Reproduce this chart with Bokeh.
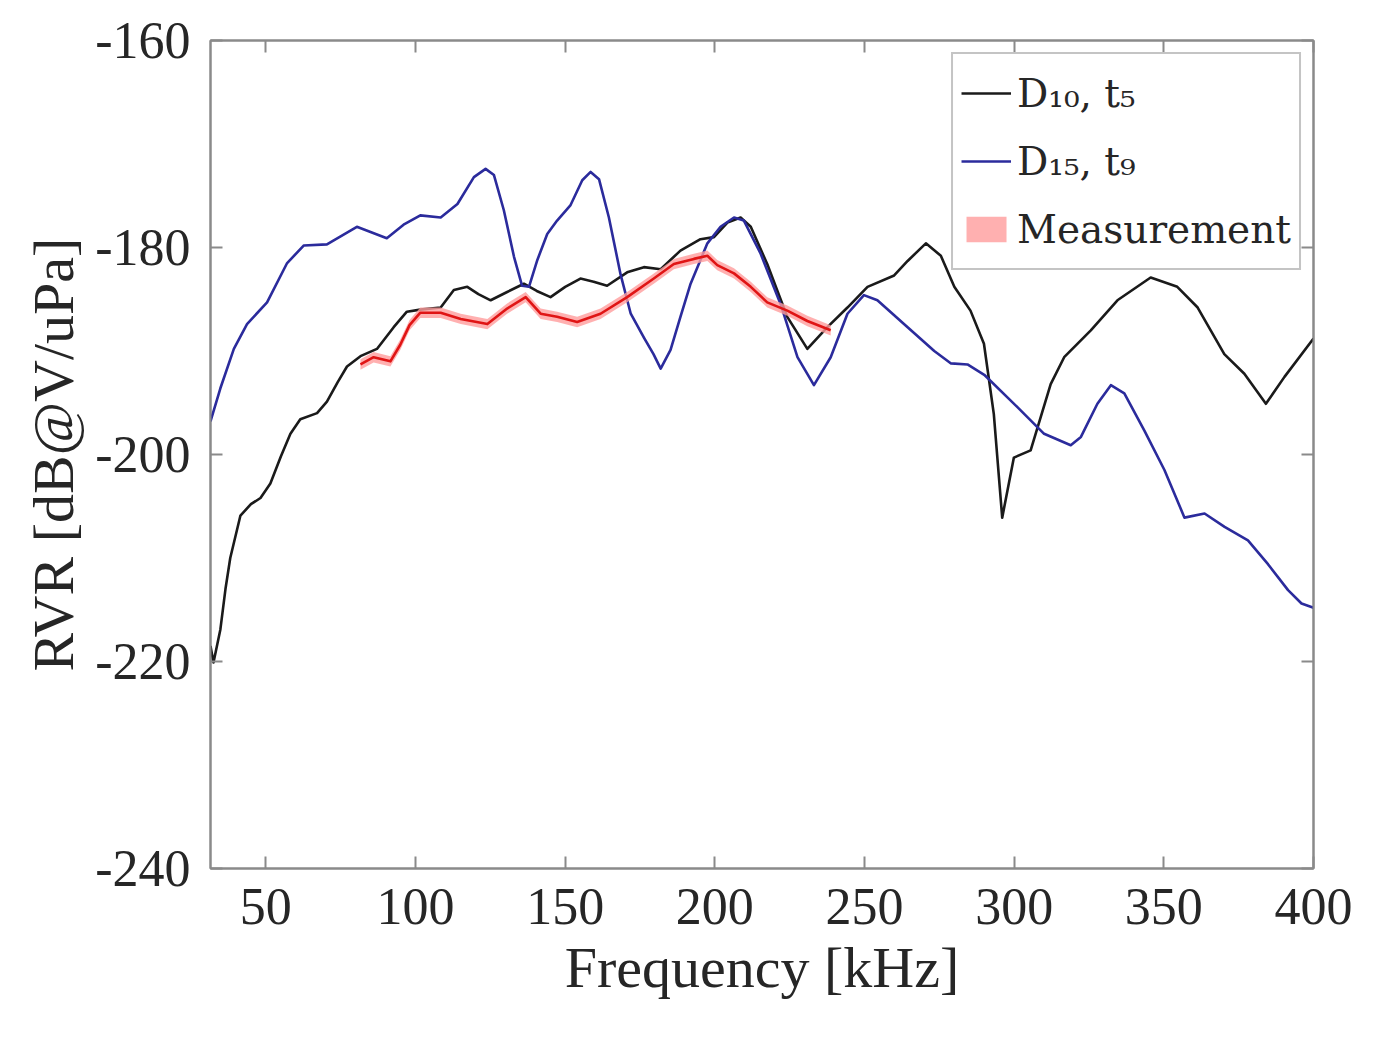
from bokeh.plotting import figure
from bokeh.models import (Range1d, LinearAxis, FixedTicker, CustomJSTickFormatter,
                          Legend, LegendItem, ColumnDataSource)
from bokeh.embed import file_html
from bokeh.resources import INLINE

# ---- data ----
d10_freq = [31.5, 32.5, 34.8, 36.5, 38.1, 41.5, 45, 48.2, 51.5, 55, 58.2, 61.5, 67.1, 70.4, 74,
            77.1, 81.6, 87.1, 92.7, 97.1, 101.6, 108.4, 112.8, 117.3, 121, 125.1, 130.6,
            136.2, 140.5, 145.1, 150, 155.1, 159.5, 164, 170.7, 176.3, 181.9, 188.5, 195.2,
            199.7, 204.2, 208.6, 212, 217.5, 224.2, 230.9, 237.6, 244.3, 251, 259.9, 264.4,
            270.5, 275.5, 280, 285.4, 289.9, 293.2, 296, 299.9, 305.5, 312.2, 316.7, 325.6,
            334.5, 345.6, 354.5, 361.3, 370.2, 376.9, 384.1, 390.3, 400]
d10_rvr = [-218.5, -220.1, -216.9, -213, -210, -205.9, -204.8, -204.2, -202.8, -200.2, -198,
           -196.6, -196, -194.9, -193, -191.5, -190.5, -189.8, -187.7, -186.2, -186, -185.8,
           -184.1, -183.8, -184.5, -185.1, -184.3, -183.5, -184.2, -184.8, -183.8, -183.0,
           -183.3, -183.7, -182.4, -181.9, -182.1, -180.3, -179.2, -179, -177.6,
           -177.1, -178.0, -181.6, -186.7, -189.8, -187.7, -185.8, -183.8, -182.7, -181.3,
           -179.6, -180.8, -183.8, -186.1, -189.3, -196.1, -206.1, -200.3, -199.6, -193.2,
           -190.6, -188, -185.1, -182.9, -183.8, -185.8, -190.3, -192.2, -195.1, -192.5, -188.8]

d15_freq = [31.5, 34.8, 39.3, 43.7, 50.4, 57.1, 62.7, 70.4, 80.4, 90.4, 96, 101.6, 108.4, 114,
            119.5, 123.4, 126.2, 129.5, 132.9, 135.6, 137.9, 140.7, 144, 147.3, 151.8, 155.7,
            158.5, 161.3, 164.6, 168.5, 171.9, 176.3, 179.5, 181.9, 185.2, 188.5, 191.9,
            197.5, 201.9, 206.4, 209.7, 215.3, 222, 227.6,
            233.1, 238.7, 244.3, 249.8, 254.3, 264.4, 273.3, 278.9, 284.4, 290, 301, 310,
            318.9, 322.3, 327.8, 332.3, 336.8, 343.5, 350.2, 356.9, 363.6, 370.3, 378.1,
            384.8, 391.5, 396, 400]
d15_rvr = [-196.8, -193.6, -189.8, -187.4, -185.3, -181.5, -179.8, -179.7, -178, -179.1, -177.8,
           -176.9, -177.1, -175.8, -173.2, -172.4, -173.0, -176.4, -180.9, -183.7, -183.8,
           -181.2, -178.7, -177.4, -175.9, -173.5, -172.7, -173.4, -177.1, -182.6, -186.4,
           -188.7, -190.3, -191.7, -189.9, -186.7, -183.5, -179.6,
           -178, -177.1, -177.4, -180.6, -185.5, -190.6, -193.3, -190.6, -186.4, -184.6,
           -185.1, -187.7, -190, -191.2, -191.3, -192.3, -195.4, -198, -199.1, -198.3,
           -195.1, -193.3, -194.1, -197.7, -201.5, -206.1, -205.7, -207, -208.3, -210.6,
           -213.1, -214.4, -214.8]

meas_freq = [81.6, 86, 91.6, 94.9, 98, 101.6, 108.4, 115.1, 124, 130.6, 136.8, 141.8, 147.3,
             154, 161.8, 170.7, 179.6, 186.3, 193, 197.5, 200.8, 206.4, 212,
             217.5, 224.2, 230.9, 238.7]
meas_rvr = [-191.3, -190.6, -191, -189.4, -187.5, -186.3, -186.3, -186.9, -187.4, -185.9,
            -184.8, -186.4, -186.7, -187.2, -186.4, -184.8, -183.0, -181.6, -181.1,
            -180.8, -181.7, -182.5, -183.8, -185.3, -186.1, -187.1, -188]
meas_spread = 0.5

x_ticks = [50, 100, 150, 200, 250, 300, 350, 400]
y_ticks = [-240, -220, -200, -180, -160]

labels = ["D\u2081\u2080, t\u2085", "D\u2081\u2085, t\u2089", "Measurement"]

# ---- styling ----
AX = "#8a8a8a"
TXT = "#262626"
TICK_FONT = "Liberation Serif"

p = figure(frame_width=1103, frame_height=828, output_backend="svg", toolbar_location=None,
           x_range=Range1d(31.5, 400), y_range=Range1d(-240, -160),
           min_border_left=210, min_border_right=46, min_border_top=40, min_border_bottom=156,
           background_fill_color="white", border_fill_color="white")
p.grid.visible = False
p.outline_line_color = AX
p.outline_line_width = 2

plain = CustomJSTickFormatter(code="return tick.toString()")

for ax in (p.xaxis[0], p.yaxis[0]):
    ax.axis_line_color = AX
    ax.axis_line_width = 2
    ax.major_tick_line_color = AX
    ax.major_tick_line_width = 2
    ax.major_tick_in = 12
    ax.major_tick_out = 0
    ax.minor_tick_line_color = None
    ax.major_label_text_font = TICK_FONT
    ax.major_label_text_font_size = "52px"
    ax.major_label_text_color = TXT
    ax.axis_label_text_font = TICK_FONT
    ax.axis_label_text_font_size = "58px"
    ax.axis_label_text_font_style = "normal"
    ax.axis_label_text_color = TXT
    ax.formatter = plain

p.xaxis[0].ticker = FixedTicker(ticks=x_ticks)
p.yaxis[0].ticker = FixedTicker(ticks=y_ticks)
p.xaxis[0].axis_label = "Frequency [kHz]"
p.yaxis[0].axis_label = "RVR [dB@V/uPa]"
p.xaxis[0].major_label_standoff = 20
p.yaxis[0].major_label_standoff = 20
p.xaxis[0].axis_label_standoff = 8
p.yaxis[0].axis_label_standoff = 6

blank = CustomJSTickFormatter(code="return ''")
top = LinearAxis(ticker=FixedTicker(ticks=x_ticks), formatter=blank)
right = LinearAxis(ticker=FixedTicker(ticks=y_ticks), formatter=blank)
for ax in (top, right):
    ax.axis_line_color = AX
    ax.axis_line_width = 2
    ax.major_tick_line_color = AX
    ax.major_tick_line_width = 2
    ax.major_tick_in = 12
    ax.major_tick_out = 0
    ax.minor_tick_line_color = None
    ax.major_label_standoff = 0
p.add_layout(top, "above")
p.add_layout(right, "right")

# ---- series ----
meas_lo = [v - meas_spread for v in meas_rvr]
meas_hi = [v + meas_spread for v in meas_rvr]
src_m = ColumnDataSource(dict(x=meas_freq, y=meas_rvr, lo=meas_lo, hi=meas_hi))

r_d10 = p.line(d10_freq, d10_rvr, line_color="#1a1a1a", line_width=2.6, line_join="round")
r_d15 = p.line(d15_freq, d15_rvr, line_color="#2b2b9c", line_width=2.6, line_join="round")
r_band = p.varea(x="x", y1="lo", y2="hi", source=src_m, fill_color="#ff9c9c", fill_alpha=0.8)
r_meas = p.line(x="x", y="y", source=src_m, line_color="#e01515", line_width=2.6,
                line_join="round")

legend = Legend(items=[LegendItem(label=labels[0], renderers=[r_d10]),
                       LegendItem(label=labels[1], renderers=[r_d15]),
                       LegendItem(label=labels[2], renderers=[r_band])],
                location="top_right")
legend.margin = 12
legend.padding = 8
legend.spacing = 6
legend.label_height = 62
legend.glyph_height = 32
legend.glyph_width = 50
legend.label_standoff = 6
legend.label_text_font = "DejaVu Serif"
legend.label_text_font_size = "39px"
legend.label_text_color = TXT
legend.border_line_color = AX
legend.border_line_width = 2
legend.background_fill_color = "white"
legend.background_fill_alpha = 1.0
p.add_layout(legend, "center")

open("out.html", "w").write(file_html(p, INLINE))
